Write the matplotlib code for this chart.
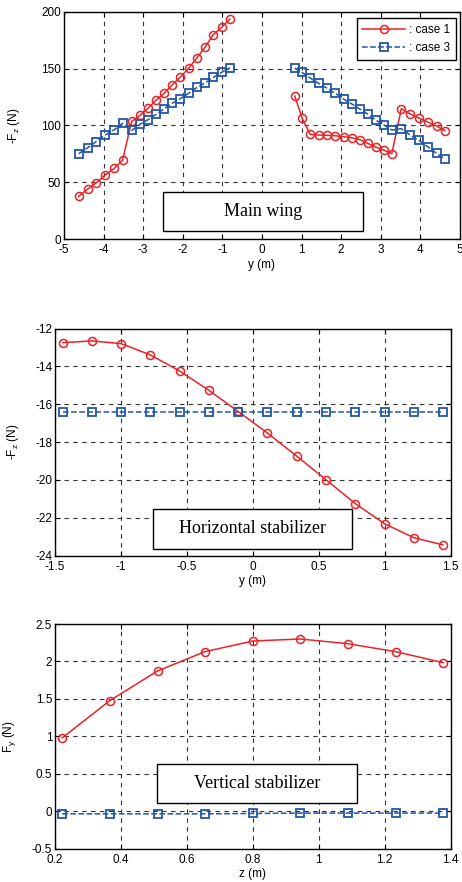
import matplotlib
matplotlib.use('Agg')
import matplotlib.pyplot as plt
from matplotlib.patches import Rectangle

plt.rcParams['font.family'] = ['Liberation Sans', 'DejaVu Sans']
plt.rcParams['mathtext.default'] = 'regular'
plt.rcParams['axes.unicode_minus'] = False

# Main wing spanwise load (left and right halves plotted separately)
wing_y_left = [-4.63, -4.40, -4.19, -3.96, -3.73, -3.52, -3.29, -3.08, -2.88, -2.67,
               -2.47, -2.27, -2.06, -1.85, -1.64, -1.43, -1.23, -1.02, -0.81]
wing_y_right = [0.83, 1.01, 1.22, 1.43, 1.64, 1.85, 2.06, 2.27, 2.47, 2.67,
                2.87, 3.07, 3.28, 3.52, 3.73, 3.96, 4.19, 4.41, 4.62]
wing_c1_left = [37.5, 44.0, 49.3, 56.3, 62.2, 69.5, 103.5, 108.8, 115.0, 122.3,
                128.2, 135.5, 142.5, 150.4, 159.5, 169.2, 179.8, 186.2, 193.5]
wing_c1_right = [125.8, 106.7, 92.0, 91.5, 91.2, 90.9, 90.0, 89.1, 87.4, 84.2,
                 80.9, 78.3, 75.1, 114.7, 110.3, 106.5, 102.9, 99.4, 95.3]
wing_c3_left = [75.0, 80.4, 85.6, 91.5, 96.2, 101.8, 95.6, 100.9, 105.0, 109.7,
                114.7, 119.4, 123.5, 128.2, 133.4, 137.5, 142.2, 146.6, 150.7]
wing_c3_right = [150.4, 146.6, 141.6, 137.0, 132.8, 128.2, 123.2, 118.8, 114.4, 110.0,
                 104.7, 100.6, 95.9, 97.1, 91.8, 86.8, 81.2, 75.4, 70.4]

# Horizontal stabilizer
htail_y = [-1.44, -1.22, -1.0, -0.78, -0.555, -0.333, -0.111,
           0.111, 0.333, 0.555, 0.777, 1.0, 1.22, 1.44]
htail_c1 = [-12.74, -12.65, -12.79, -13.38, -14.24, -15.26, -16.38,
            -17.52, -18.74, -19.99, -21.25, -22.32, -23.05, -23.43]
htail_c3 = [-16.39] * 14

# Vertical stabilizer
vtail_z = [0.222, 0.366, 0.511, 0.655, 0.80, 0.944, 1.088, 1.233, 1.377]
vtail_c1 = [0.98, 1.476, 1.873, 2.131, 2.273, 2.30, 2.237, 2.131, 1.984]
vtail_c3 = [-0.035, -0.035, -0.035, -0.035, -0.03, -0.025, -0.025, -0.025, -0.025]

red = '#ec2227'
blue = '#2456a8'
red_style = dict(color=red, linestyle='-', linewidth=1.1, marker='o', markersize=5.8,
                 markerfacecolor='none', markeredgewidth=1.1)
blue_style = dict(color=blue, linestyle='--', linewidth=1.1, marker='s', markersize=5.8,
                  markerfacecolor='none', markeredgewidth=1.3)

fig = plt.figure(figsize=(4.62, 8.82), dpi=100)
ax1 = fig.add_axes([0.1385, 0.729, 0.857, 0.2577])
ax2 = fig.add_axes([0.119, 0.370, 0.8565, 0.2574])
ax3 = fig.add_axes([0.119, 0.0378, 0.8565, 0.2547])


def style_axes(ax):
    ax.grid(True, color='0.2', linestyle=(0, (4, 4)), linewidth=0.8)
    ax.tick_params(direction='in', top=True, right=True, length=3.5, width=0.8,
                   labelsize=8.5)
    ax.tick_params(axis='x', pad=3.5)
    ax.tick_params(axis='y', pad=2)
    for s in ax.spines.values():
        s.set_linewidth(1.0)


def label_box(ax, x0, y0, x1, y1, text):
    ax.add_patch(Rectangle((x0, y0), x1 - x0, y1 - y0, transform=ax.transAxes,
                           facecolor='white', edgecolor='black', linewidth=1.0, zorder=5))
    ax.text((x0 + x1) / 2, (y0 + y1) / 2, text, transform=ax.transAxes,
            ha='center', va='center', fontsize=13, family='Liberation Serif', zorder=6)


# main wing
l1, = ax1.plot(wing_y_left, wing_c1_left, **red_style)
ax1.plot(wing_y_right, wing_c1_right, **red_style)
l3, = ax1.plot(wing_y_left, wing_c3_left, **blue_style)
ax1.plot(wing_y_right, wing_c3_right, **blue_style)
ax1.set_xlim(-5, 5)
ax1.set_ylim(0, 200)
ax1.set_xticks(range(-5, 6))
ax1.set_yticks([0, 50, 100, 150, 200])
ax1.set_xlabel('y (m)', fontsize=8.5, labelpad=2)
ax1.set_ylabel('-F$_z$ (N)', fontsize=8.5, labelpad=14)
style_axes(ax1)
label_box(ax1, 0.25, 0.035, 0.755, 0.207, 'Main wing')
leg = ax1.legend([l1, l3], [': case 1', ': case 3'], loc='upper right',
                 bbox_to_anchor=(0.989, 0.971), borderaxespad=0, fontsize=8.5,
                 handlelength=3.6, fancybox=False, framealpha=1, edgecolor='black',
                 borderpad=0.5, labelspacing=0.5, handletextpad=0.3)
leg.get_frame().set_linewidth(1.0)
leg.set_zorder(7)

# horizontal stabilizer
ax2.plot(htail_y, htail_c1, **red_style)
ax2.plot(htail_y, htail_c3, **blue_style)
ax2.set_xlim(-1.5, 1.5)
ax2.set_ylim(-24, -12)
ax2.set_xticks([-1.5, -1, -0.5, 0, 0.5, 1, 1.5])
ax2.set_xticklabels(['-1.5', '-1', '-0.5', '0', '0.5', '1', '1.5'])
ax2.set_yticks(range(-24, -11, 2))
ax2.set_xlabel('y (m)', fontsize=8.5, labelpad=2)
ax2.set_ylabel('-F$_z$ (N)', fontsize=8.5, labelpad=10)
style_axes(ax2)
label_box(ax2, 0.247, 0.030, 0.751, 0.206, 'Horizontal stabilizer')

# vertical stabilizer
ax3.plot(vtail_z, vtail_c1, **red_style)
ax3.plot(vtail_z, vtail_c3, **blue_style)
ax3.set_xlim(0.2, 1.4)
ax3.set_ylim(-0.5, 2.5)
ax3.set_xticks([0.2, 0.4, 0.6, 0.8, 1.0, 1.2, 1.4])
ax3.set_xticklabels(['0.2', '0.4', '0.6', '0.8', '1', '1.2', '1.4'])
ax3.set_yticks([-0.5, 0, 0.5, 1, 1.5, 2, 2.5])
ax3.set_yticklabels(['-0.5', '0', '0.5', '1', '1.5', '2', '2.5'])
ax3.set_xlabel('z (m)', fontsize=8.5, labelpad=2)
ax3.set_ylabel('F$_y$ (N)', fontsize=8.5, labelpad=10)
style_axes(ax3)
label_box(ax3, 0.2585, 0.202, 0.7625, 0.377, 'Vertical stabilizer')

fig.savefig('out.png', dpi=100)
